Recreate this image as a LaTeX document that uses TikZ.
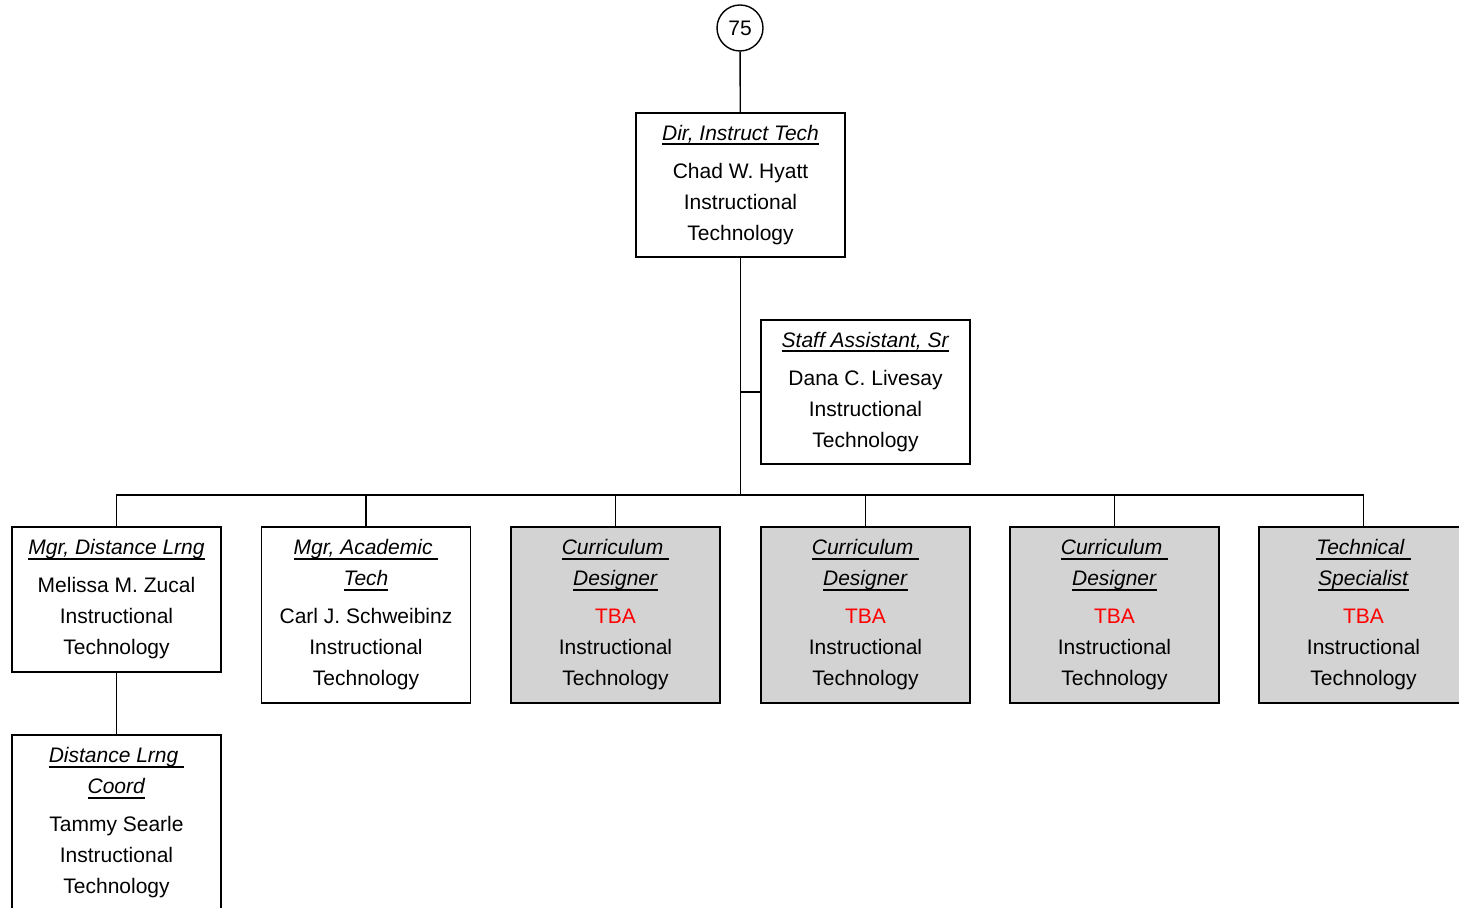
\documentclass[tikz,border=0pt]{standalone}
\usepackage{fontspec}
\setmainfont{Liberation Sans}
\usetikzlibrary{positioning}
\definecolor{vacgray}{RGB}{211,211,211}
\newsavebox{\ttlbox}
\newcommand{\jobttl}[1]{\sbox{\ttlbox}{\textit{#1}}\rlap{\rule[-2.4pt]{\wd\ttlbox}{0.9pt}}\usebox{\ttlbox}}
\newcommand{\tba}{\textcolor{red}{TBA}}

\begin{document}
\begin{tikzpicture}[x=0.5pt, y=-0.5pt, line width=0.7pt,
  box/.style={draw, inner sep=0pt, minimum width=104.5pt, minimum height=72pt,
    align=center, font=\fontsize{10.5}{15.5}\selectfont},
  tall/.style={box, minimum height=88pt},
  vac/.style={tall, fill=vacgray},
  num/.style={draw, circle, minimum size=23pt, inner sep=0pt, font=\fontsize{10.5}{12}\selectfont}]
\useasboundingbox (0,0) rectangle (1459,908);
\node[num] (n75) at (740,28) {75};
\node[box] (dir) at (740.5,185) {\jobttl{Dir, Instruct Tech}\\[3.5pt]Chad W. Hyatt\\Instructional\\Technology};
\node[box] (sa) at (865.5,392) {\jobttl{Staff Assistant, Sr}\\[3.5pt]Dana C. Livesay\\Instructional\\Technology};
% direct reports
\node[box, minimum height=72.5pt] (c1) at (116.5,599.5) {\jobttl{Mgr, Distance Lrng}\\[3.5pt]Melissa M. Zucal\\Instructional\\Technology};
\node[tall] (c2) at (366,615) {\jobttl{Mgr, Academic\ }\\\jobttl{Tech}\\[3.5pt]Carl J. Schweibinz\\Instructional\\Technology};
\node[vac] (c3) at (615.5,615) {\jobttl{Curriculum\ }\\\jobttl{Designer}\\[3.5pt]\tba\\Instructional\\Technology};
\node[vac] (c4) at (865.5,615) {\jobttl{Curriculum\ }\\\jobttl{Designer}\\[3.5pt]\tba\\Instructional\\Technology};
\node[vac] (c5) at (1114.5,615) {\jobttl{Curriculum\ }\\\jobttl{Designer}\\[3.5pt]\tba\\Instructional\\Technology};
\node[vac] (c6) at (1363.5,615) {\jobttl{Technical\ }\\\jobttl{Specialist}\\[3.5pt]\tba\\Instructional\\Technology};
\node[tall] (dlc) at (116.5,823) {\jobttl{Distance Lrng\ }\\\jobttl{Coord}\\[3.5pt]Tammy Searle\\Instructional\\Technology};
% connectors
\coordinate (j) at (740.5,495);
\draw (n75) -- (dir);
\draw (dir.south) -- (j);
\draw (sa.west) -- (sa.west -| dir.south);
\foreach \i in {1,...,6} \draw (j) -| (c\i.north);
\draw (c1) -- (dlc);
\end{tikzpicture}
\end{document}
